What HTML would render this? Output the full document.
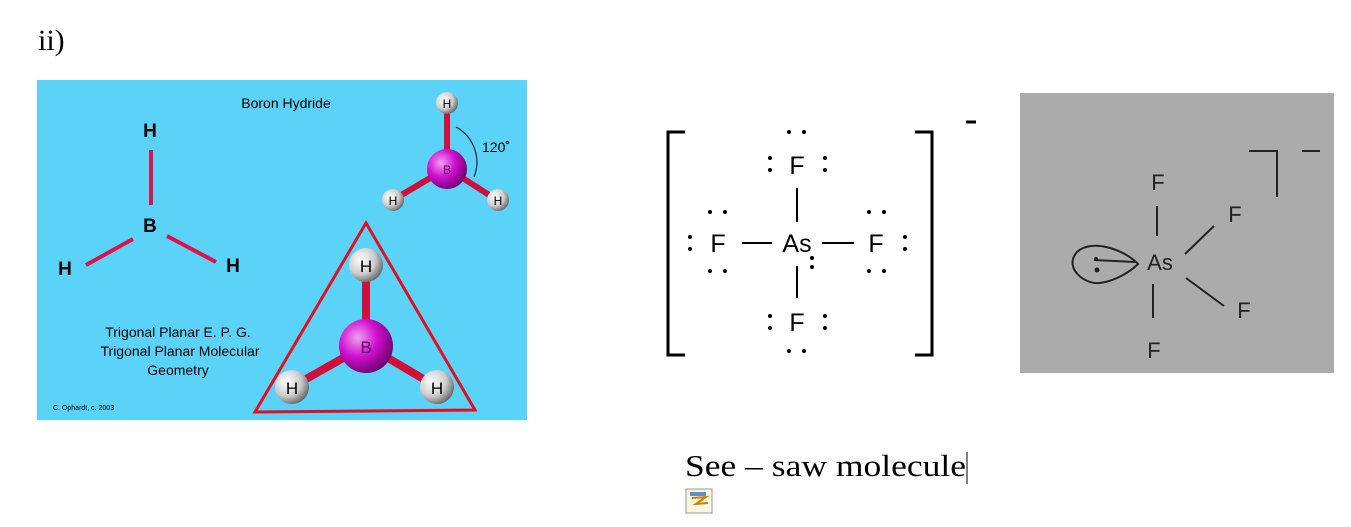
<!DOCTYPE html>
<html><head><style>
body{margin:0;background:#fff;width:1351px;height:527px;overflow:hidden}
svg{position:absolute;left:0;top:0}
</style></head><body>
<svg width="1351" height="527" viewBox="0 0 1351 527" font-family="Liberation Sans, sans-serif">
<defs>
<radialGradient id="hg" cx="0.35" cy="0.35" r="0.7"><stop offset="0" stop-color="#fff"/><stop offset="0.6" stop-color="#ccc"/><stop offset="1" stop-color="#666"/></radialGradient>
<radialGradient id="bg" cx="0.35" cy="0.35" r="0.7"><stop offset="0" stop-color="#f0a0f0"/><stop offset="0.5" stop-color="#d010d0"/><stop offset="1" stop-color="#700070"/></radialGradient>
</defs>
<text x="38" y="50" font-family="Liberation Serif, serif" font-size="30">ii)</text>
<rect x="37" y="80" width="490" height="340" fill="#5bd3f9"/>
<text x="286" y="108" font-size="14" text-anchor="middle">Boron Hydride</text>
<g font-weight="bold" font-size="19">
<text x="150" y="137" text-anchor="middle">H</text>
<text x="150" y="232" text-anchor="middle">B</text>
<text x="65" y="275" text-anchor="middle">H</text>
<text x="233" y="272" text-anchor="middle">H</text>
</g>
<g stroke="#e0104a" stroke-width="4">
<line x1="151" y1="150" x2="151" y2="205"/>
<line x1="86" y1="265" x2="133" y2="239"/>
<line x1="167" y1="236" x2="216" y2="262"/>
</g>
<g font-size="14" text-anchor="middle">
<text x="178" y="337">Trigonal Planar E. P. G.</text>
<text x="180" y="356">Trigonal Planar Molecular</text>
<text x="178" y="375">Geometry</text>
</g>
<text x="53" y="410" font-size="7">C. Ophardt, c. 2003</text>
<g stroke="#d0103a" stroke-width="6">
<line x1="447" y1="103" x2="447" y2="168"/>
<line x1="447" y1="168" x2="393" y2="200"/>
<line x1="447" y1="168" x2="497" y2="200"/>
</g>
<path d="M456 127 A40 40 0 0 1 474 177" fill="none" stroke="#123" stroke-width="1.2"/>
<text x="482" y="152" font-size="14">120˚</text>
<circle cx="447" cy="169" r="20" fill="url(#bg)"/>
<text x="447" y="174" font-size="12" fill="#600060" text-anchor="middle">B</text>
<g font-size="12" text-anchor="middle">
<circle cx="447" cy="103" r="11" fill="url(#hg)"/><text x="447" y="108">H</text>
<circle cx="393" cy="200" r="11" fill="url(#hg)"/><text x="393" y="205">H</text>
<circle cx="498" cy="200" r="11" fill="url(#hg)"/><text x="498" y="205">H</text>
</g>
<polygon points="366,223 255,412 475,410" fill="none" stroke="#e01020" stroke-width="3"/>
<g stroke="#d0103a" stroke-width="8">
<line x1="366" y1="265" x2="366" y2="345"/>
<line x1="366" y1="345" x2="292" y2="387"/>
<line x1="366" y1="345" x2="437" y2="387"/>
</g>
<circle cx="366" cy="346" r="27" fill="url(#bg)"/>
<text x="366" y="353" font-size="17" fill="#600060" text-anchor="middle">B</text>
<g font-size="17" text-anchor="middle">
<circle cx="366" cy="265" r="17" fill="url(#hg)"/><text x="366" y="272">H</text>
<circle cx="292" cy="387" r="17" fill="url(#hg)"/><text x="292" y="394">H</text>
<circle cx="437" cy="387" r="17" fill="url(#hg)"/><text x="437" y="394">H</text>
</g>
<g stroke="#000" stroke-width="3" fill="none">
<path d="M685 132 H668 V355 H685"/>
<path d="M915 132 H932 V355 H915"/>
<line x1="966" y1="122" x2="976" y2="122"/>
</g>
<g stroke="#000" stroke-width="2">
<line x1="797" y1="188" x2="797" y2="222"/>
<line x1="797" y1="266" x2="797" y2="298"/>
<line x1="742" y1="243" x2="772" y2="243"/>
<line x1="822" y1="243" x2="854" y2="243"/>
</g>
<g font-size="25" text-anchor="middle">
<text x="797" y="174">F</text>
<text x="797" y="252">As</text>
<text x="718" y="252">F</text>
<text x="876" y="252">F</text>
<text x="797" y="331">F</text>
</g>
<g fill="#000">
<circle cx="789" cy="132" r="2"/><circle cx="804" cy="132" r="2"/>
<circle cx="770" cy="158" r="2"/><circle cx="770" cy="170" r="2"/>
<circle cx="825" cy="158" r="2"/><circle cx="825" cy="170" r="2"/>
<circle cx="710" cy="212" r="2"/><circle cx="725" cy="212" r="2"/>
<circle cx="710" cy="271" r="2"/><circle cx="725" cy="271" r="2"/>
<circle cx="690" cy="237" r="2"/><circle cx="690" cy="249" r="2"/>
<circle cx="869" cy="212" r="2"/><circle cx="884" cy="212" r="2"/>
<circle cx="869" cy="271" r="2"/><circle cx="884" cy="271" r="2"/>
<circle cx="905" cy="237" r="2"/><circle cx="905" cy="249" r="2"/>
<circle cx="812" cy="258" r="2"/><circle cx="812" cy="267" r="2"/>
<circle cx="770" cy="316" r="2"/><circle cx="770" cy="328" r="2"/>
<circle cx="825" cy="316" r="2"/><circle cx="825" cy="328" r="2"/>
<circle cx="789" cy="351" r="2"/><circle cx="804" cy="351" r="2"/>
</g>
<rect x="1020" y="93" width="314" height="280" fill="#ababab"/>
<g stroke="#222" stroke-width="2" fill="none">
<path d="M1249 151 H1277 V197"/>
<line x1="1302" y1="151" x2="1320" y2="151"/>
<line x1="1157" y1="206" x2="1157" y2="236"/>
<line x1="1153" y1="284" x2="1153" y2="318"/>
<line x1="1185" y1="254" x2="1214" y2="226"/>
<line x1="1186" y1="278" x2="1224" y2="306"/>
<path d="M1138 264 C1125 250 1092 238 1077 252 C1063 268 1085 285 1100 283 C1115 281 1130 272 1138 264 Z"/>
<line x1="1094" y1="260" x2="1135" y2="262"/>
</g>
<circle cx="1097" cy="270" r="2.5" fill="#222"/>
<circle cx="1096" cy="259" r="2" fill="#222"/>
<g font-size="22" fill="#222" text-anchor="middle">
<text x="1160" y="270">As</text>
<text x="1158" y="190">F</text>
<text x="1235" y="222">F</text>
<text x="1244" y="318">F</text>
<text x="1154" y="358">F</text>
</g>
<text x="685" y="476" font-family="Liberation Serif, serif" font-size="31" textLength="281" lengthAdjust="spacingAndGlyphs">See – saw molecule</text>
<line x1="967" y1="452" x2="967" y2="484" stroke="#000" stroke-width="1"/>
<rect x="686" y="489" width="26" height="24" fill="#f8f8e0" stroke="#999"/>
<path d="M692 498 L706 497 L696 504 L708 503" stroke="#d08000" stroke-width="2" fill="none"/>
<rect x="690" y="492" width="16" height="4" fill="#6090d0"/>
</svg>
</body></html>
